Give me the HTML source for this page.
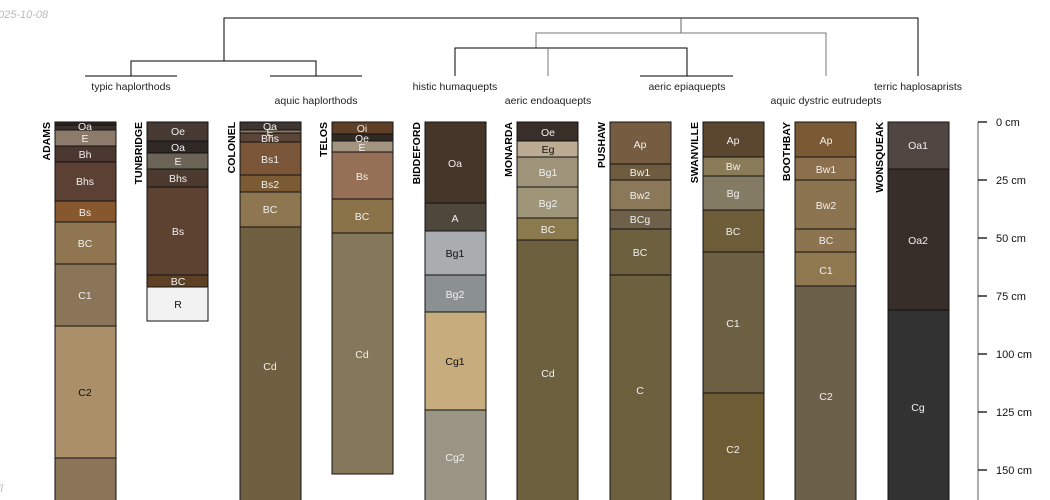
<!DOCTYPE html>
<html><head><meta charset="utf-8"><style>
body{margin:0;background:#fff;width:1050px;height:500px;overflow:hidden}
svg{display:block;font-family:"Liberation Sans",sans-serif}
.h{font-size:10.5px;text-anchor:middle;fill:#f0f0f0}
.d{fill:#111}
.n{font-size:10.5px;font-weight:bold;fill:#000}
.t{font-size:10.5px;fill:#222;text-anchor:middle}
.s{font-size:11px;fill:#111}
</style></head><body>
<svg width="1050" height="500" viewBox="0 0 1050 500">
<text x="-2" y="18" font-size="11" font-style="italic" fill="#bbb">025-10-08</text>
<text x="-2" y="492" font-size="11" font-style="italic" fill="#bbb">ll</text>
<!-- dendrogram -->
<g stroke="#000" stroke-width="1" fill="none">
<path d="M224,61V18H918V76"/>
<path d="M131,76V61H316V76"/>
<path d="M85,76H177M270,76H362"/>
<path d="M681,18V33" stroke="#666"/>
<path d="M536,48V33H826V76" stroke="#777"/>
<path d="M455,76V48H687V76"/>
<path d="M548,48V76" stroke="#777"/>
<path d="M640,76H733"/>
</g>
<text class="t" x="131" y="90">typic haplorthods</text>
<text class="t" x="316" y="104">aquic haplorthods</text>
<text class="t" x="455" y="90">histic humaquepts</text>
<text class="t" x="548" y="104">aeric endoaquepts</text>
<text class="t" x="687" y="90">aeric epiaquepts</text>
<text class="t" x="826" y="104">aquic dystric eutrudepts</text>
<text class="t" x="918" y="90">terric haplosaprists</text>
<g stroke="#111" stroke-width="1">
<!-- ADAMS x55 w61 -->
<rect x="55" y="122" width="61" height="3" fill="#2e2620"/>
<rect x="55" y="125" width="61" height="5" fill="#3a302a"/>
<rect x="55" y="130" width="61" height="16" fill="#8c7a6b"/>
<rect x="55" y="146" width="61" height="16" fill="#4a3730"/>
<rect x="55" y="162" width="61" height="39" fill="#5c4033"/>
<rect x="55" y="201" width="61" height="21" fill="#87582d"/>
<rect x="55" y="222" width="61" height="42" fill="#8f7550"/>
<rect x="55" y="264" width="61" height="62" fill="#8b7558"/>
<rect x="55" y="326" width="61" height="132" fill="#ab8f68"/>
<rect x="55" y="458" width="61" height="50" fill="#8b7558"/>
<!-- TUNBRIDGE -->
<rect x="147" y="122" width="61" height="19" fill="#463a33"/>
<rect x="147" y="141" width="61" height="12" fill="#302824"/>
<rect x="147" y="153" width="61" height="16" fill="#6b6356"/>
<rect x="147" y="169" width="61" height="18" fill="#4d3a2e"/>
<rect x="147" y="187" width="61" height="88" fill="#5d4131"/>
<rect x="147" y="275" width="61" height="12" fill="#5e4124"/>
<rect x="147" y="287" width="61" height="34" fill="#f2f2f2"/>
<!-- COLONEL -->
<rect x="240" y="122" width="61" height="8" fill="#3f3530"/>
<rect x="240" y="130" width="61" height="3" fill="#8a7864"/>
<rect x="240" y="133" width="61" height="9" fill="#5a4538"/>
<rect x="240" y="142" width="61" height="33" fill="#7a5537"/>
<rect x="240" y="175" width="61" height="17" fill="#7b5b34"/>
<rect x="240" y="192" width="61" height="35" fill="#8e7650"/>
<rect x="240" y="227" width="61" height="281" fill="#6e6040"/>
<!-- TELOS -->
<rect x="332" y="122" width="61" height="12" fill="#5f3f26"/>
<rect x="332" y="134" width="61" height="7" fill="#332a24"/>
<rect x="332" y="141" width="61" height="11" fill="#a39480"/>
<rect x="332" y="152" width="61" height="47" fill="#967056"/>
<rect x="332" y="199" width="61" height="34" fill="#8a7348"/>
<rect x="332" y="233" width="61" height="241" fill="#85785a"/>
<!-- BIDDEFORD -->
<rect x="425" y="122" width="61" height="81" fill="#463629"/>
<rect x="425" y="203" width="61" height="28" fill="#4d473c"/>
<rect x="425" y="231" width="61" height="44" fill="#a9adb0"/>
<rect x="425" y="275" width="61" height="37" fill="#8b9193"/>
<rect x="425" y="312" width="61" height="98" fill="#c7ad7d"/>
<rect x="425" y="410" width="61" height="98" fill="#9a9585"/>
<!-- MONARDA -->
<rect x="517" y="122" width="61" height="19" fill="#3a2e28"/>
<rect x="517" y="141" width="61" height="16" fill="#bcac94"/>
<rect x="517" y="157" width="61" height="30" fill="#9f937a"/>
<rect x="517" y="187" width="61" height="31" fill="#9f9579"/>
<rect x="517" y="218" width="61" height="22" fill="#8a7a4e"/>
<rect x="517" y="240" width="61" height="268" fill="#6d603f"/>
<!-- PUSHAW -->
<rect x="610" y="122" width="61" height="42" fill="#765d42"/>
<rect x="610" y="164" width="61" height="16" fill="#6e5c3e"/>
<rect x="610" y="180" width="61" height="30" fill="#8b7858"/>
<rect x="610" y="210" width="61" height="19" fill="#6f6149"/>
<rect x="610" y="229" width="61" height="46" fill="#6d603e"/>
<rect x="610" y="275" width="61" height="233" fill="#6d603e"/>
<!-- SWANVILLE -->
<rect x="703" y="122" width="61" height="35" fill="#5b4630"/>
<rect x="703" y="157" width="61" height="19" fill="#8a7c58"/>
<rect x="703" y="176" width="61" height="34" fill="#837b63"/>
<rect x="703" y="210" width="61" height="42" fill="#6d5d38"/>
<rect x="703" y="252" width="61" height="141" fill="#6e6143"/>
<rect x="703" y="393" width="61" height="115" fill="#6e5c34"/>
<!-- BOOTHBAY -->
<rect x="795" y="122" width="61" height="35" fill="#7a5a35"/>
<rect x="795" y="157" width="61" height="23" fill="#8c6f4d"/>
<rect x="795" y="180" width="61" height="49" fill="#8c7450"/>
<rect x="795" y="229" width="61" height="23" fill="#8c7450"/>
<rect x="795" y="252" width="61" height="34" fill="#8f7850"/>
<rect x="795" y="286" width="61" height="222" fill="#6d604b"/>
<!-- WONSQUEAK -->
<rect x="888" y="122" width="61" height="47" fill="#514641"/>
<rect x="888" y="169" width="61" height="141" fill="#372d29"/>
<rect x="888" y="310" width="61" height="198" fill="#323233"/>
</g>
<!-- horizon labels -->
<g class="h">
<text x="85" y="130">Oa</text><text x="85" y="142">E</text><text x="85" y="158">Bh</text><text x="85" y="185">Bhs</text><text x="85" y="216">Bs</text><text x="85" y="247">BC</text><text x="85" y="299">C1</text><text class="d" x="85" y="396">C2</text>
<text x="178" y="135">Oe</text><text x="178" y="151">Oa</text><text x="178" y="165">E</text><text x="178" y="182">Bhs</text><text x="178" y="235">Bs</text><text x="178" y="285">BC</text><text class="d" x="178" y="308">R</text>
<text x="270" y="130">Oa</text><text x="270" y="136">E</text><text x="270" y="142">Bhs</text><text x="270" y="163">Bs1</text><text x="270" y="188">Bs2</text><text x="270" y="213">BC</text><text x="270" y="370">Cd</text>
<text x="362" y="132">Oi</text><text x="362" y="142">Oe</text><text x="362" y="151">E</text><text x="362" y="180">Bs</text><text x="362" y="220">BC</text><text x="362" y="358">Cd</text>
<text x="455" y="167">Oa</text><text x="455" y="222">A</text><text class="d" x="455" y="257">Bg1</text><text x="455" y="298">Bg2</text><text class="d" x="455" y="365">Cg1</text><text x="455" y="461">Cg2</text>
<text x="548" y="136">Oe</text><text class="d" x="548" y="153">Eg</text><text x="548" y="176">Bg1</text><text x="548" y="207">Bg2</text><text x="548" y="233">BC</text><text x="548" y="377">Cd</text>
<text x="640" y="148">Ap</text><text x="640" y="176">Bw1</text><text x="640" y="199">Bw2</text><text x="640" y="223">BCg</text><text x="640" y="256">BC</text><text x="640" y="394">C</text>
<text x="733" y="144">Ap</text><text x="733" y="170">Bw</text><text x="733" y="197">Bg</text><text x="733" y="235">BC</text><text x="733" y="327">C1</text><text x="733" y="453">C2</text>
<text x="826" y="144">Ap</text><text x="826" y="173">Bw1</text><text x="826" y="209">Bw2</text><text x="826" y="244">BC</text><text x="826" y="274">C1</text><text x="826" y="400">C2</text>
<text x="918" y="149">Oa1</text><text x="918" y="244">Oa2</text><text x="918" y="411">Cg</text>
</g>
<!-- profile names -->
<g class="n">
<text transform="translate(50,122) rotate(-90)" text-anchor="end">ADAMS</text>
<text transform="translate(142,122) rotate(-90)" text-anchor="end">TUNBRIDGE</text>
<text transform="translate(235,122) rotate(-90)" text-anchor="end">COLONEL</text>
<text transform="translate(327,122) rotate(-90)" text-anchor="end">TELOS</text>
<text transform="translate(420,122) rotate(-90)" text-anchor="end">BIDDEFORD</text>
<text transform="translate(512,122) rotate(-90)" text-anchor="end">MONARDA</text>
<text transform="translate(605,122) rotate(-90)" text-anchor="end">PUSHAW</text>
<text transform="translate(698,122) rotate(-90)" text-anchor="end">SWANVILLE</text>
<text transform="translate(790,122) rotate(-90)" text-anchor="end">BOOTHBAY</text>
<text transform="translate(883,122) rotate(-90)" text-anchor="end">WONSQUEAK</text>
</g>
<!-- scale -->
<g stroke="#777" stroke-width="1.2">
<path d="M978,122V500"/>
<path d="M978,122H987M978,180H987M978,238H987M978,296H987M978,354H987M978,412H987M978,470H987" stroke="#000"/>
</g>
<g class="s">
<text x="996" y="126">0 cm</text><text x="996" y="184">25 cm</text><text x="996" y="242">50 cm</text><text x="996" y="300">75 cm</text><text x="996" y="358">100 cm</text><text x="996" y="416">125 cm</text><text x="996" y="474">150 cm</text>
</g>
</svg>
</body></html>
